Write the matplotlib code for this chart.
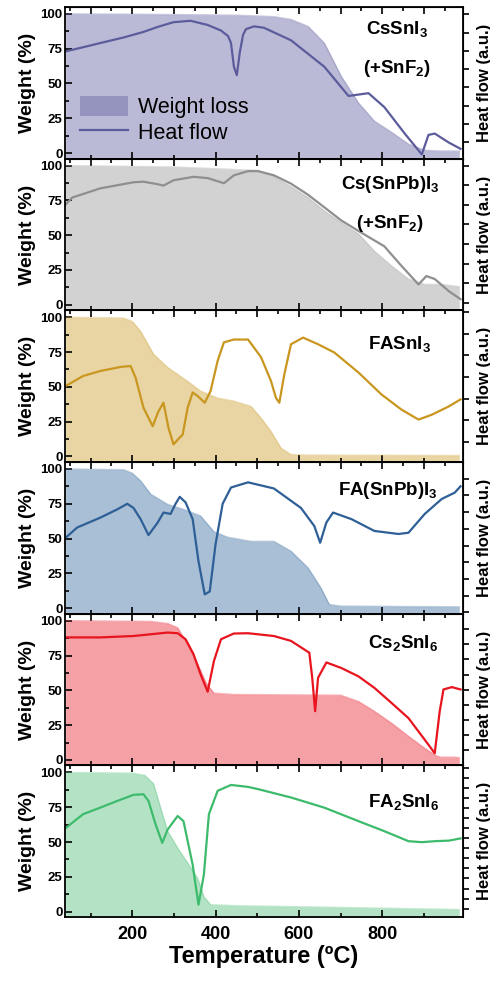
import matplotlib
matplotlib.use('Agg')
import matplotlib.pyplot as plt
import numpy as np
from matplotlib.ticker import MultipleLocator

plt.rcParams['font.family'] = ['Liberation Sans', 'DejaVu Sans']
plt.rcParams['mathtext.fontset'] = 'custom'
plt.rcParams['mathtext.rm'] = 'Liberation Sans'
plt.rcParams['mathtext.bf'] = 'Liberation Sans:bold'

# --- CsSnI3 (+SnF2)
t_w1 = [40, 300, 450, 540, 581, 622, 661, 702, 743, 781, 822, 863, 902, 940, 985]
w1 = [100, 99.5, 99, 98, 96, 91, 79, 55, 36, 23, 15, 6.5, 2, 1.5, 1.5]
t_h1 = [40, 82, 123, 179, 227, 260, 299, 340, 381, 413, 430, 437, 444, 451, 458, 466, 473,
        492, 516, 581, 661, 719, 767, 805, 854, 895, 911, 926, 960, 988]
h1 = [73, 76, 79, 83, 87, 90.5, 94, 95, 92, 88, 84, 79, 62, 56, 72, 85, 89,
      91, 90, 81, 62, 41, 43, 33, 14, -1, 13, 14, 7.5, 3]

# --- Cs(SnPb)I3 (+SnF2)
t_w2 = [40, 300, 460, 502, 540, 581, 622, 661, 702, 743, 781, 822, 863, 902, 943, 985]
w2 = [100, 99, 97, 96.5, 92, 85, 77, 67.5, 59, 51, 38.6, 28, 18.5, 14.6, 14.6, 13]
t_h2 = [40, 56, 123, 203, 227, 261, 275, 299, 347, 381, 420, 444, 478, 502, 540, 581, 622,
        661, 702, 743, 805, 846, 887, 906, 926, 960, 988]
h2 = [72, 77, 83.6, 88, 88.4, 86.6, 85.6, 89.4, 91.9, 91, 87.3, 93, 96, 96, 93, 87, 79,
      70, 60.5, 53, 42, 28, 14.6, 20.6, 18.5, 9.7, 4]

# --- FASnI3
t_w3 = [40, 179, 200, 220, 251, 285, 333, 364, 405, 444, 485, 509, 533, 557, 581, 620, 985]
w3 = [100, 99.5, 97, 90, 73.5, 64, 54, 47, 42, 39.8, 36, 27.7, 18, 6, 1.4, 1, 0.7]
t_h3 = [40, 82, 123, 172, 196, 208, 227, 249, 263, 275, 287, 299, 309, 321, 333, 345, 357,
        374, 388, 405, 420, 444, 478, 509, 533, 545, 553, 565, 581, 610, 646, 685, 743,
        798, 846, 887, 919, 960, 988]
h3 = [50.6, 57.8, 61.4, 64.3, 65, 56.6, 35, 21.7, 32.5, 38.6, 20.5, 8.7, 12, 15.7, 35, 46, 43.4,
      38.6, 47, 68.7, 82, 84, 84, 71.4, 54.2, 42, 38.6, 59, 80.6, 85.4, 80.6, 74.7, 60.3,
      44.6, 33.7, 26.5, 30, 36, 41]

# --- FA(SnPb)I3
t_w4 = [40, 179, 200, 220, 244, 285, 323, 364, 396, 429, 485, 540, 581, 622, 653, 673, 700, 985]
w4 = [100, 99.5, 97, 91.6, 82, 74.6, 71, 66.3, 55, 51, 48, 48, 41, 29, 14.5, 2.7, 1.5, 1]
t_h4 = [40, 68, 123, 164, 188, 203, 220, 239, 261, 275, 292, 304, 314, 328, 345, 359, 374,
        386, 400, 417, 437, 478, 540, 605, 637, 651, 666, 682, 726, 781, 839, 863, 902,
        943, 974, 988]
h4 = [50.6, 58, 65, 71, 75, 72, 64, 52.5, 61.5, 68.7, 67.7, 75, 80, 76, 64, 33.7, 9.9,
      12, 46, 75, 86.7, 90.4, 86, 72, 59, 47, 61.6, 68.7, 64, 55.5, 53.3, 54.2, 67.7,
      78.5, 83, 87.6]

# --- Cs2SnI6
t_w5 = [40, 244, 285, 309, 333, 357, 377, 396, 444, 700, 743, 781, 822, 863, 902, 930, 940, 975, 985]
w5 = [100, 99.5, 98, 95, 83, 69, 55.4, 48, 47, 46.5, 42, 35, 26.5, 17, 8.4, 3, 2, 2, 1.5]
t_h5 = [40, 123, 203, 285, 309, 328, 347, 364, 381, 396, 413, 444, 478, 540, 581, 625, 632,
        639, 646, 666, 702, 743, 781, 822, 863, 902, 926, 938, 947, 967, 988]
h5 = [88, 88, 89, 91.5, 91, 86.7, 76, 61.5, 49, 71, 86.7, 90.8, 91, 89, 85.5, 77, 59,
      35, 59, 70, 66, 60, 51.8, 41, 30, 14.5, 4.8, 35, 50.6, 52.3, 50.6]

# --- FA2SnI6
t_w6 = [40, 200, 230, 251, 268, 285, 309, 333, 357, 372, 388, 444, 700, 985]
w6 = [100, 99.5, 98, 92, 74.7, 57.8, 45.8, 35, 24, 10.8, 5, 4.3, 3, 1.5]
t_h6 = [40, 82, 123, 164, 203, 227, 239, 256, 272, 285, 309, 323, 345, 359, 372, 384, 405,
        437, 478, 502, 581, 661, 743, 805, 863, 895, 926, 960, 988]
h6 = [60, 70, 74.7, 79.5, 83.9, 84.3, 79.5, 62.7, 49.4, 59, 68.7, 65, 33.7, 5, 26.7, 70, 86.8,
      91, 89.6, 88, 82, 74.7, 65, 57.8, 50.6, 49.9, 50.6, 51, 52.6]

names = [['CsSnI$_\\mathbf{3}$', '(+SnF$_\\mathbf{2}$)'],
         ['Cs(SnPb)I$_\\mathbf{3}$', '(+SnF$_\\mathbf{2}$)'],
         ['FASnI$_\\mathbf{3}$'],
         ['FA(SnPb)I$_\\mathbf{3}$'],
         ['Cs$_\\mathbf{2}$SnI$_\\mathbf{6}$'],
         ['FA$_\\mathbf{2}$SnI$_\\mathbf{6}$']]

fill_colors = ['#6666a4', '#9d9d9d', '#cea233', '#4071a2', '#e92c39', '#58c37e']
line_colors = ['#5c5c9c', '#8f8f8f', '#c9961f', '#2e5f97', '#e8141e', '#3dbb6c']

T_w = [t_w1, t_w2, t_w3, t_w4, t_w5, t_w6]
W = [w1, w2, w3, w4, w5, w6]
T_h = [t_h1, t_h2, t_h3, t_h4, t_h5, t_h6]
H = [h1, h2, h3, h4, h5, h6]

# label placement (axes fraction) and right-axis tick spacing per panel
name_x = [0.834, 0.817, 0.84, 0.81, 0.85, 0.85]
name_y = [[0.847, 0.593], [0.83, 0.57], [0.773], [0.81], [0.80], [0.755]]
r_start = [99.6, 100, 103.6, 93, 94, 103]
r_step = [13.1, 14.1, 15.5, 12, 10.9, 7.2]

fig, axes = plt.subplots(6, 1, figsize=(4.9, 9.82), dpi=100, sharex=True)
fig.subplots_adjust(left=0.133, right=0.945, top=0.993, bottom=0.066, hspace=0)

for i, ax in enumerate(axes):
    ax.fill_between(T_w[i], -5, W[i], color=fill_colors[i], alpha=0.45, lw=0, label='Weight loss')
    ax.plot(T_w[i], W[i], color=fill_colors[i], alpha=0.35, lw=1)
    ax.plot(T_h[i], H[i], color=line_colors[i], lw=1.6, label='Heat flow', solid_joinstyle='round')

    ax.set_xlim(39, 994)
    ax.set_ylim(-4, 105)
    ax.set_yticks([0, 25, 50, 75, 100])
    ax.yaxis.set_minor_locator(MultipleLocator(12.5))
    ax.xaxis.set_major_locator(MultipleLocator(200))
    ax.xaxis.set_minor_locator(MultipleLocator(100))
    ax.tick_params(which='both', direction='in', top=False, right=False)
    ax.tick_params(which='major', length=5, width=1.2)
    ax.tick_params(which='minor', length=3, width=1.2)
    ax.tick_params(axis='y', labelsize=9.5, pad=2)
    for lbl in ax.get_yticklabels():
        lbl.set_fontweight('bold')
    for s in ax.spines.values():
        s.set_linewidth(1.3)
    ax.set_ylabel('Weight (%)', fontsize=14, fontweight='bold', labelpad=3)

    top = ax.secondary_xaxis('top')
    top.xaxis.set_major_locator(MultipleLocator(100))
    top.xaxis.set_minor_locator(MultipleLocator(50))
    top.tick_params(which='both', direction='in', labeltop=False, width=1.2)
    top.tick_params(which='major', length=5)
    top.tick_params(which='minor', length=3)

    right = ax.secondary_yaxis('right')
    rt = [r_start[i] - r_step[i] * k for k in range(20) if r_start[i] - r_step[i] * k > -4]
    right.set_yticks(rt)
    right.tick_params(direction='out', labelright=False, length=4, width=1.2)
    right.set_ylabel('Heat flow (a.u.)', fontsize=12, fontweight='bold', labelpad=6)

    for j, txt in enumerate(names[i]):
        ax.text(name_x[i], name_y[i][j], txt, transform=ax.transAxes, ha='center', va='center',
                fontsize=13.5, fontweight='bold')

axes[0].legend(loc='lower left', frameon=False, fontsize=15.5, handlelength=2.2,
               handleheight=1.0, labelspacing=0.15, borderaxespad=0.3, handletextpad=0.5)

axes[-1].tick_params(axis='x', labelsize=13, pad=6)
for lbl in axes[-1].get_xticklabels():
    lbl.set_fontweight('bold')
axes[-1].set_xlabel('Temperature (ºC)', fontsize=17, fontweight='bold', labelpad=2)

fig.savefig('out.png', dpi=100)
